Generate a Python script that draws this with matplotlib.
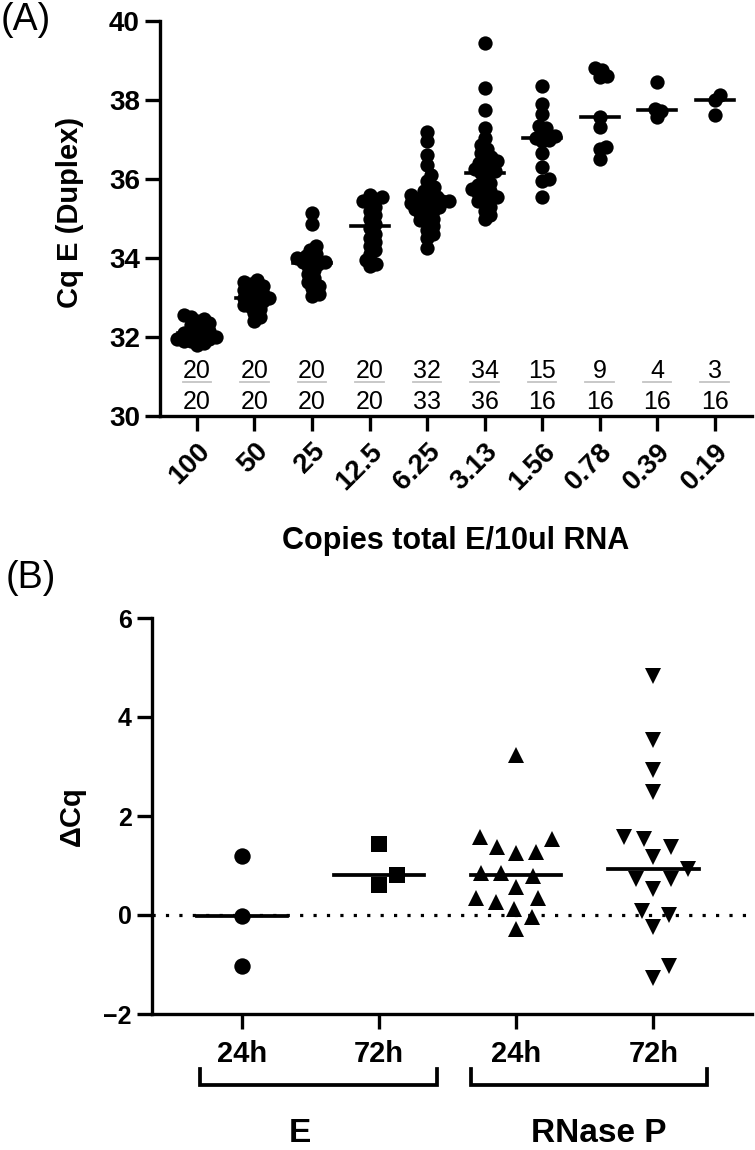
import numpy as np
import matplotlib
matplotlib.use('Agg')
import matplotlib.pyplot as plt
from matplotlib.transforms import blended_transform_factory

plt.rcParams['font.family'] = ['Liberation Sans', 'DejaVu Sans']

# ---- panel A data: Cq of E (duplex) per dilution ----
copies = ['100', '50', '25', '12.5', '6.25', '3.13', '1.56', '0.78', '0.39', '0.19']
cq_100 = [32.55, 32.5, 32.45, 32.4, 32.35, 32.3, 32.25, 32.2, 32.15, 32.1,
          32.1, 32.05, 32.0, 32.0, 31.95, 31.95, 31.9, 31.9, 31.85, 31.8]
cq_50 = [33.45, 33.4, 33.35, 33.3, 33.25, 33.2, 33.15, 33.1, 33.05, 33.0,
         33.0, 32.95, 32.9, 32.85, 32.8, 32.75, 32.7, 32.6, 32.5, 32.4]
cq_25 = [35.15, 34.85, 34.3, 34.2, 34.1, 34.05, 34.0, 33.95, 33.9, 33.9,
         33.85, 33.8, 33.7, 33.6, 33.5, 33.4, 33.3, 33.25, 33.1, 33.05]
cq_12 = [35.6, 35.55, 35.5, 35.45, 35.4, 35.3, 35.2, 35.1, 35.0, 34.85,
         34.75, 34.6, 34.5, 34.4, 34.3, 34.2, 34.1, 33.95, 33.85, 33.8]
cq_6 = [37.2, 36.95, 36.6, 36.35, 36.1, 35.95, 35.8, 35.7, 35.65, 35.6,
        35.55, 35.5, 35.5, 35.45, 35.45, 35.4, 35.4, 35.35, 35.3, 35.3,
        35.25, 35.2, 35.15, 35.1, 35.0, 34.95, 34.9, 34.8, 34.7, 34.6,
        34.5, 34.25]
cq_3 = [39.45, 38.3, 37.75, 37.3, 37.05, 36.85, 36.75, 36.65, 36.55, 36.5,
        36.45, 36.4, 36.35, 36.3, 36.25, 36.2, 36.15, 36.15, 36.0, 35.9,
        35.85, 35.8, 35.75, 35.7, 35.65, 35.6, 35.55, 35.5, 35.45, 35.4,
        35.3, 35.2, 35.1, 35.0]
cq_1 = [38.35, 37.9, 37.65, 37.35, 37.3, 37.15, 37.1, 37.05, 37.0, 36.95,
        36.65, 36.3, 36.0, 35.95, 35.55]
cq_078 = [38.81, 38.75, 38.6, 38.58, 37.57, 37.32, 36.81, 36.77, 36.51]
cq_039 = [38.46, 37.78, 37.71, 37.57]
cq_019 = [38.12, 38.01, 37.61]
cq_all = [cq_100, cq_50, cq_25, cq_12, cq_6, cq_3, cq_1, cq_078, cq_039, cq_019]
n_pos = [20, 20, 20, 20, 32, 34, 15, 9, 4, 3]
n_tot = [20, 20, 20, 20, 33, 36, 16, 16, 16, 16]

# ---- panel B data: delta Cq ----
times = ['24h', '72h', '24h', '72h']
targets = ['E', 'RNase P']
dcq_e24 = [1.2, -0.03, -1.03]
dcq_e72 = [1.44, 0.8, 0.6]
dcq_r24 = [3.24, 1.58, 1.53, 1.38, 1.28, 1.25, 0.84, 0.84, 0.78, 0.57,
           0.34, 0.34, 0.27, 0.13, -0.05, -0.29]
dcq_r72 = [4.82, 3.54, 2.92, 2.49, 1.58, 1.53, 1.37, 1.17, 0.92, 0.72,
           0.72, 0.52, 0.09, 0.0, -0.24, -1.03, -1.28]
dcq_all = [dcq_e24, dcq_e72, dcq_r24, dcq_r72]
markers_b = ['o', 's', '^', 'v']

W, H = 755, 1150
fig = plt.figure(figsize=(W / 100, H / 100), dpi=100)


def fx(x):
    return x / W


def fy(y):
    return 1 - y / H


def swarm(ax, xc, vals, d):
    # simple beeswarm in pixel space, returns x positions in data units
    pts = ax.transData.transform(np.column_stack([np.full(len(vals), xc), vals]))
    x0, ypx = pts[0, 0], pts[:, 1]
    placed = []
    offs = np.zeros(len(vals))
    for i in np.argsort(ypx):
        y = ypx[i]
        cands = [0.0]
        for px, py in placed:
            dy = y - py
            if abs(dy) < d:
                dx = np.sqrt(d * d - dy * dy)
                cands += [px + dx, px - dx]
        cands.sort(key=abs)
        for c in cands:
            if all((c - px) ** 2 + (y - py) ** 2 >= d * d - 1e-6 for px, py in placed):
                break
        placed.append((c, y))
        offs[i] = c
    inv = ax.transData.inverted()
    return inv.transform(np.column_stack([x0 + offs, ypx]))[:, 0]


def style(ax, size):
    for s in ['top', 'right']:
        ax.spines[s].set_visible(False)
    for s in ['left', 'bottom']:
        ax.spines[s].set_linewidth(2.4)
    ax.tick_params(width=2.4, length=11, labelsize=size, color='black')
    for lab in ax.get_xticklabels() + ax.get_yticklabels():
        lab.set_fontweight('bold')


# ---------------- panel A ----------------
axA = fig.add_axes([fx(160), fy(416), fx(592), 395 / H])
axA.set_ylim(30, 40)
axA.set_xlim(-0.643, 9.65)
axA.set_yticks(range(30, 41, 2))
axA.set_xticks(range(len(copies)))
axA.set_xticklabels(copies, rotation=45, ha='right', va='top', rotation_mode='anchor')
style(axA, 20)
axA.tick_params(axis='x', pad=5)

for i, vals in enumerate(cq_all):
    xs = swarm(axA, i, vals, 7)
    axA.plot(xs, vals, 'o', color='black', ms=10.3, mew=0, clip_on=False, zorder=3)
    m = np.median(vals)
    axA.plot([i - 0.33, i + 0.33], [m, m], color='black', lw=2.6, zorder=4)
    axA.text(i, 31.14, str(n_pos[i]), ha='center', va='center', fontsize=18)
    axA.plot([i - 0.25, i + 0.25], [30.87, 30.87], color='#c4c4c4', lw=1.3)
    axA.text(i, 30.35, str(n_tot[i]), ha='center', va='center', fontsize=18)

fig.text(fx(456), fy(541), 'Copies total E/10ul RNA', ha='center', va='center',
         fontsize=22, fontweight='bold')
fig.text(fx(70), fy(212), 'Cq E (Duplex)', ha='center', va='center',
         rotation=90, fontsize=21, fontweight='bold')
fig.text(fx(1), fy(2), '(A)', ha='left', va='top', fontsize=27)

# ---------------- panel B ----------------
axB = fig.add_axes([fx(152), fy(1014), fx(600), 396 / H])
axB.set_ylim(-2, 6)
axB.set_xlim(-0.657, 3.72)
axB.set_yticks(range(-2, 7, 2))
axB.set_xticks(range(len(times)))
axB.set_xticklabels(times)
style(axB, 18)
axB.tick_params(axis='x', pad=8, labelsize=21)
axB.axhline(0, color='black', lw=2.3, ls=(0, (1, 3.2)), zorder=1)

for i, vals in enumerate(dcq_all):
    xs = swarm(axB, i, vals, 20)
    axB.plot(xs, vals, markers_b[i], color='black', ms=11.8, mew=0, clip_on=False, zorder=3)
    m = np.median(vals)
    axB.plot([i - 0.33, i + 0.33], [m, m], color='black', lw=2.7, zorder=4)

# group brackets under the time labels
tr = blended_transform_factory(axB.transData, fig.transFigure)
y_top, y_bot = fy(1069), fy(1085)
for a, b in [(0 - 0.31, 1 + 0.42), (2 - 0.33, 3 + 0.39)]:
    axB.plot([a, a, b, b], [y_top, y_bot, y_bot, y_top], color='black', lw=2.7,
             transform=tr, clip_on=False, solid_joinstyle='miter')
for xpos, name in zip([0.42, 2.6], targets):
    axB.text(xpos, fy(1133), name, transform=tr, ha='center', va='center',
             fontsize=24, fontweight='bold')

fig.text(fx(72), fy(816), 'ΔCq', ha='center', va='center', rotation=90,
         fontsize=21, fontweight='bold')
fig.text(fx(6), fy(560), '(B)', ha='left', va='top', fontsize=27)

fig.savefig('out.png', dpi=100)
